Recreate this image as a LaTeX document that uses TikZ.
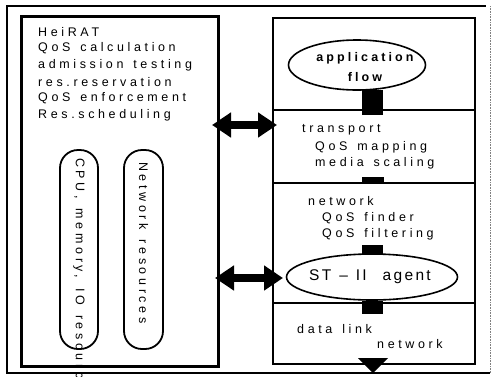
\documentclass[tikz,border=0pt]{standalone}
\usepackage{fontspec}
\setmainfont{Liberation Sans}
\usetikzlibrary{shapes.geometric,arrows.meta}
\newfontfamily\spaced[LetterSpace=29,WordSpace=1.4]{Liberation Sans}
\newfontfamily\spacedb[LetterSpace=25]{Liberation Sans Bold}
\newfontfamily\spacedst[LetterSpace=15,WordSpace=1.2]{Liberation Sans}
\tikzset{
  frame/.style={draw=black,line width=2pt},
  txt/.style={font=\spaced\fontsize{12.5}{16.6}\selectfont,anchor=west,inner sep=0pt,align=left},
  blk/.style={fill=black,draw=none},
  capsule/.style={draw=black,line width=1.8pt,rounded corners=18pt},
  dbl/.style={line width=8pt,{Triangle[length=19pt,width=24pt]}-{Triangle[length=19pt,width=24pt]}},
  oval/.style={ellipse,draw=black,line width=1.6pt,fill=white,inner sep=0pt}
}
\begin{document}
\begin{tikzpicture}[x=1pt,y=-1pt]
\useasboundingbox (0,0) rectangle (492,376);
\fill[white] (0,0) rectangle (492,376);
% outer frame
\draw[line width=1.5pt] (6,6) -- (486,6);
\draw[line width=2.5pt] (7,6) -- (7,373) -- (490,373);
\draw[line width=0.6pt,black!50,densely dotted] (490,6) -- (490,373);
% left box
\node[frame,line width=2.5pt,minimum width=197pt,minimum height=350pt,anchor=north west,inner sep=0pt] (L) at (20,15) {};
\node[txt] (t1) at (38,32) {HeiRAT};
\node[txt] (t2) at (38,48.6) {QoS calculation};
\node[txt] (t3) at (38,65.2) {admission testing};
\node[txt] (t4) at (38,81.8) {res.reservation};
\node[txt] (t5) at (38,98.4) {QoS enforcement};
\node[txt] (t6) at (38,115) {Res.scheduling};
% capsules
\draw[capsule] (60,150) rectangle (98,349);
\coordinate (c1) at (79,150);
\draw[capsule] (124,150) rectangle (163,349);
\coordinate (c2) at (143.5,150);
\node[txt,rotate=-90,anchor=west] (cpu) at (79,158) {CPU, memory, IO resources};
\node[txt,rotate=-90,anchor=west] (net) at (143.5,162) {Network resources};
% right box
\node[frame,minimum width=202pt,minimum height=346pt,anchor=north west,inner sep=0pt] (R) at (272,17) {};
\draw[line width=1.5pt] (272,110) -- (474,110);
\draw[line width=1.5pt] (272,183) -- (474,183);
\draw[line width=1.5pt] (272,303) -- (474,303);
% application flow
\node[oval,minimum width=137pt,minimum height=50pt] (app) at (357,65) {};
\node[font=\spacedb\fontsize{12.5}{20}\selectfont,align=center,inner sep=0pt] (appt) at (365,67) {application\\flow};
\fill[blk] (362,90) rectangle (383,115);
\node[txt] (tr1) at (302,130) {transport};
\node[txt] (tr2) at (315,147) {QoS mapping};
\node[txt] (tr3) at (315,163) {media scaling};
\fill[blk] (362,177) rectangle (384,183);
\node[txt] (n1) at (308,201) {network};
\node[txt] (n2) at (322,218) {QoS finder};
\node[txt] (n3) at (322,234) {QoS filtering};
\fill[blk] (362,245) rectangle (383,255);
\node[oval,minimum width=171pt,minimum height=46pt] (st) at (372,277) {};
\node[font=\spacedst\fontsize{15.5}{18}\selectfont,inner sep=0pt] (stt) at (370,277) {ST – II\ \ agent};
\fill[blk] (362,301) rectangle (383,314);
\node[txt] (d1) at (297,329) {data link};
\node[txt] (d2) at (377,344) {network};
\fill[blk] (358,358) -- (388,358) -- (373,373) -- cycle;
% double arrows
\coordinate (a1l) at (212,125);
\coordinate (a1r) at (277,125);
\draw[dbl] (a1l) -- (a1r);
\coordinate (a2l) at (215,278);
\coordinate (a2r) at (283,278);
\draw[dbl] (a2l) -- (a2r);
\end{tikzpicture}
\end{document}
